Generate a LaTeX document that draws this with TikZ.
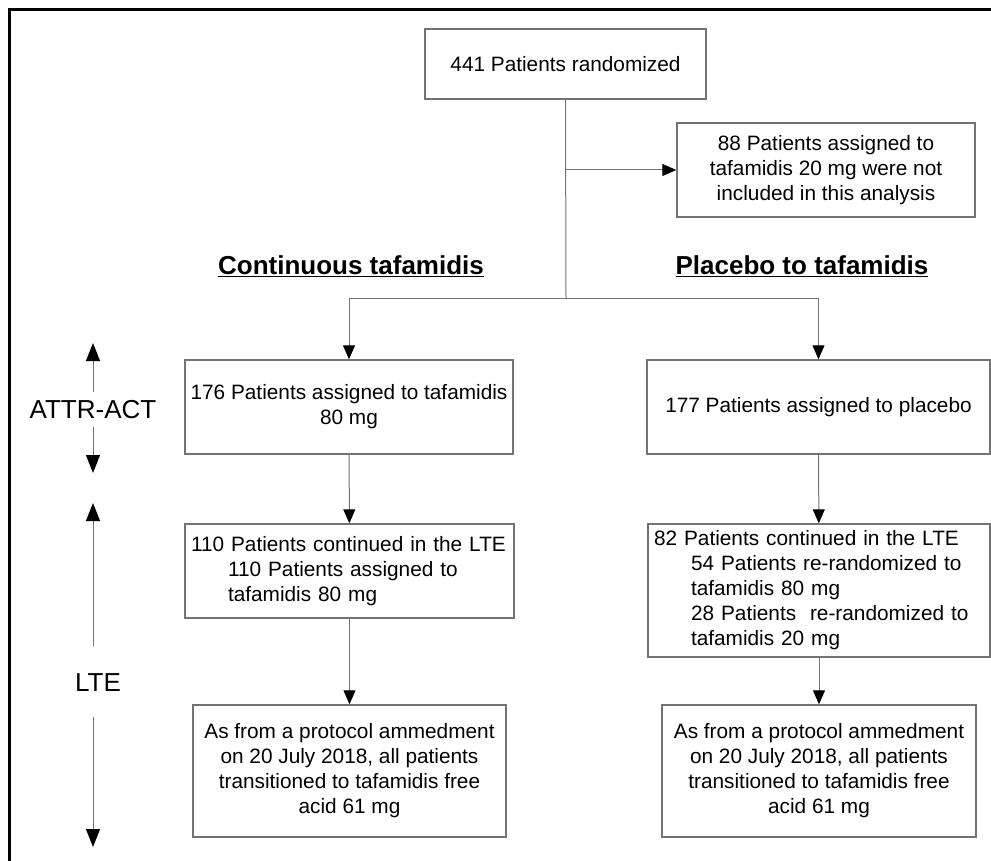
\documentclass[tikz,border=0pt]{standalone}
\usepackage{fontspec}
\setmainfont{Liberation Sans}
\usetikzlibrary{arrows.meta}
\begin{document}
\begin{tikzpicture}[x=1pt,y=-1pt,
  box/.style={draw=black!55, line width=1.4pt, inner sep=0pt, font=\fontsize{20.8}{25}\selectfont, align=center},
  lbox/.style={box, align=left},
  conn/.style={draw=black!55, line width=1pt},
  tip/.style={-{Triangle[width=12pt,length=14pt,color=black]}},
  bigtip/.style={-{Triangle[width=14pt,length=18pt,color=black]}},
  head/.style={font=\bfseries\fontsize{26}{30}\selectfont, inner sep=0pt},
  side/.style={font=\fontsize{26}{30}\selectfont, inner sep=0pt}
]
\useasboundingbox (0,0) rectangle (991,861);
\draw[line width=3pt] (9.5,861) -- (9.5,10) -- (991,10);

\node[box, minimum width=281pt, minimum height=70pt] (top) at (565.5,64) {441 Patients randomized};
\node[box, minimum width=298pt, minimum height=94pt] (excl) at (826,170) {88 Patients assigned to\\tafamidis 20 mg were not\\included in this analysis};

\node[head] (hl) at (351,266) {\underline{Continuous tafamidis}};
\node[head] (hr) at (802,266) {\underline{Placebo to tafamidis}};

\node[box, minimum width=328pt, minimum height=94pt] (b176) at (349,407) {176 Patients assigned to tafamidis\\80 mg};
\node[box, minimum width=343pt, minimum height=94pt] (b177) at (818.5,407) {177 Patients assigned to placebo};

\node[lbox, text width=317pt, minimum width=329pt, minimum height=94pt] (b110) at (349.5,571) {110 Patients continued in the LTE\\\hspace*{37pt}110 Patients assigned to\\\hspace*{37pt}tafamidis 80 mg};
\node[lbox, text width=330pt, minimum width=342pt, minimum height=133pt] (b82) at (819,590.5) {82 Patients continued in the LTE\\\hspace*{37pt}54 Patients re-randomized to\\\hspace*{37pt}tafamidis 80 mg\\\hspace*{37pt}28 Patients\ \ re-randomized to\\\hspace*{37pt}tafamidis 20 mg};

\node[box, minimum width=313pt, minimum height=132pt] (bl) at (349.5,771) {As from a protocol ammedment\\on 20 July 2018, all patients\\transitioned to tafamidis free\\acid 61 mg};
\node[box, minimum width=314pt, minimum height=132pt] (br) at (819,771) {As from a protocol ammedment\\on 20 July 2018, all patients\\transitioned to tafamidis free\\acid 61 mg};

\coordinate (sp) at (566,298);
\coordinate (j) at (566,170);
\draw[conn] (top.south) -- (sp);
\draw[conn, tip] (j) -- (excl.west);
\draw[conn, tip] (sp) -| (b176.north);
\draw[conn, tip] (sp) -| (b177.north);
\draw[conn, tip] (b176) -- (b110);
\draw[conn, tip] (b177) -- (b82);
\draw[conn, tip] (b110) -- (bl);
\draw[conn, tip] (b82) -- (br);

\node[side] (attr) at (93,410) {ATTR-ACT};
\node[side] (lte) at (98,683) {LTE};
\coordinate (a1t) at (93,343);
\coordinate (a1b) at (93,392);
\coordinate (a2t) at (93,427);
\coordinate (a2b) at (93,473);
\coordinate (l1t) at (93,503);
\coordinate (l1b) at (93,646);
\coordinate (l2t) at (93,717);
\coordinate (l2b) at (93,847);
\draw[conn, bigtip] (a1b) -- (a1t);
\draw[conn, bigtip] (a2t) -- (a2b);
\draw[conn, bigtip] (l1b) -- (l1t);
\draw[conn, bigtip] (l2t) -- (l2b);
\end{tikzpicture}
\end{document}
